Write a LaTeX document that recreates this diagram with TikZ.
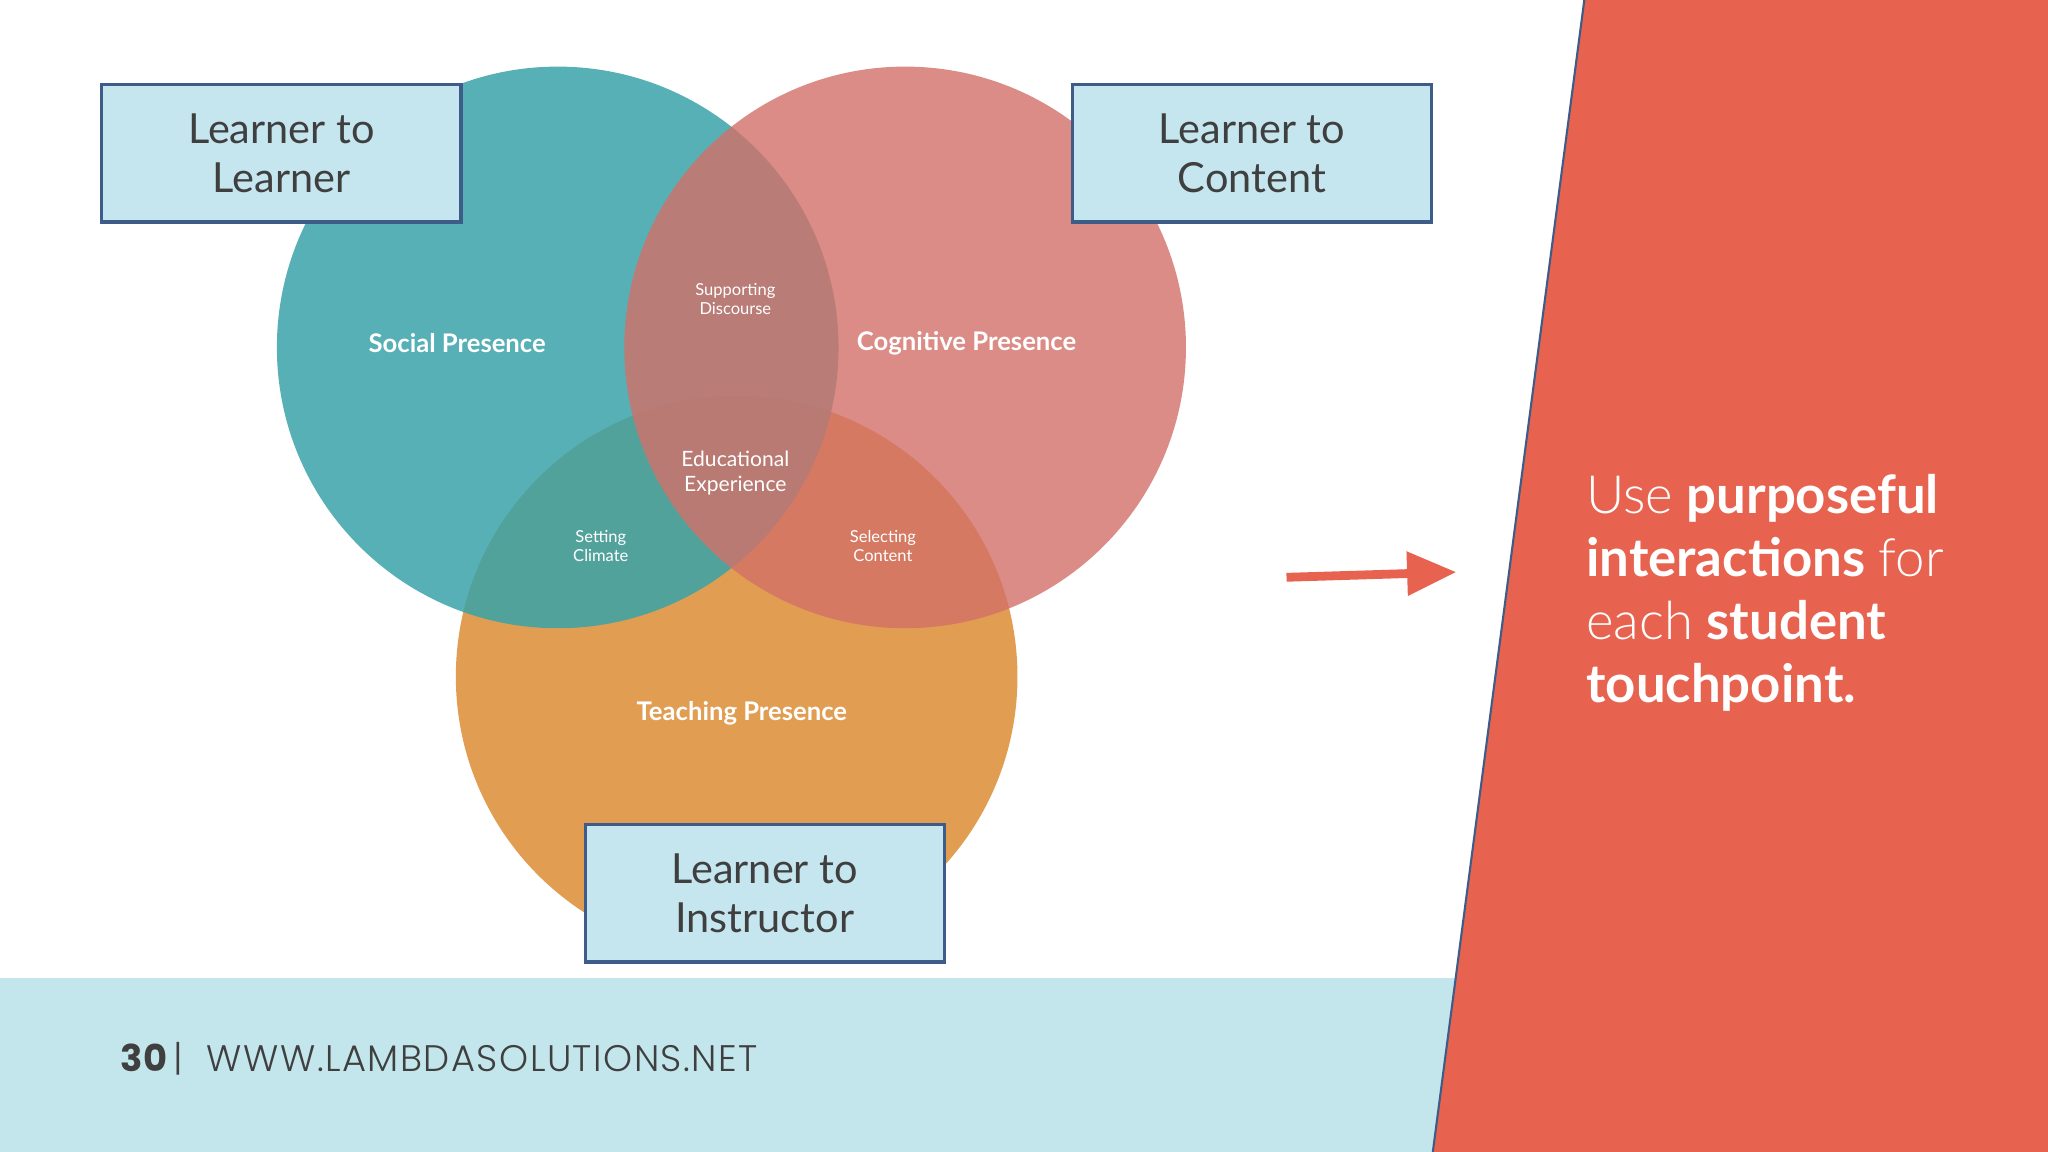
\documentclass[tikz,border=0pt]{standalone}
\usepackage{fontspec}
\setmainfont{Lato}
\newfontfamily\popfont{Poppins}
\newfontfamily\poplight[LetterSpace=4]{Poppins Light}
\newfontfamily\latolight{Lato Light}
\usetikzlibrary{arrows.meta}
\definecolor{bandblue}{HTML}{C3E5EC}
\definecolor{slred}{HTML}{E8634F}
\definecolor{cteal}{HTML}{3AA3A9}
\definecolor{cred}{HTML}{D27068}
\definecolor{corange}{HTML}{DC8E36}
\definecolor{boxfill}{HTML}{C5E6EF}
\definecolor{boxline}{HTML}{3E5C88}
\definecolor{txtgray}{HTML}{3F3F3F}
\tikzset{
  circ/.style={circle,minimum size=430*0.013061cm,inner sep=0pt,fill opacity=0.85,draw=none},
  lbox/.style={draw=boxline,line width=0.9pt,fill=boxfill,minimum width=275*0.013061cm,minimum height=105*0.013061cm,align=center,font=\fontsize{11.8}{13.8}\selectfont,text=txtgray},
  clab/.style={text=white,font=\bfseries\fontsize{7.3}{9}\selectfont,align=center},
  slab/.style={text=white,font=\fontsize{4.7}{5.6}\selectfont,align=center},
}
\begin{document}
\begin{tikzpicture}[x=0.013061cm,y=-0.013061cm]
\useasboundingbox (0,0) rectangle (1568,882);
\fill[white] (0,0) rectangle (1568,882);
\fill[bandblue] (0,749) rectangle (1115,882);
\node[circ,fill=corange] (tea) at (564,518) {};
\node[circ,fill=cteal] (soc) at (427,266) {};
\node[circ,fill=cred,fill opacity=0.8] (cog) at (693,266) {};
\node[clab] (sp) at (350,263) {Social Presence};
\node[clab] (cp) at (740,263) {Cognitive Presence};
\node[clab] (tp) at (568,546) {Teaching Presence};
\node[slab] (sd) at (563,229) {Supporting\\Discourse};
\node[clab,font=\fontsize{6}{7.2}\selectfont] (ee) at (563,362) {Educational\\Experience};
\node[slab] (sc) at (460,418) {Setting\\Climate};
\node[slab] (sel) at (676,418) {Selecting\\Content};
\node[lbox] (ll) at (215.5,117.5) {Learner to\\Learner};
\node[lbox] (lc) at (958.5,117.5) {Learner to\\Content};
\node[lbox] (li) at (585.5,684) {Learner to\\Instructor};
\fill[slred] (1213,0) -- (1568,0) -- (1568,882) -- (1097,882) -- cycle;
\draw[boxline,line width=0.6pt] (1213,0) -- (1097,882);
\coordinate (a1) at (985,442);
\coordinate (a2) at (1115,438);
\draw[slred,line width=2.5pt,-{Triangle[length=14pt,width=12pt]}] (a1) -- (a2);
\node[anchor=north west,text=white,align=left,font=\fontsize{15}{17.9}\selectfont,inner sep=0pt] (msg) at (1214,363)
{{\latolight Use} \textbf{purposeful}\\\textbf{interactions} {\latolight for}\\{\latolight each} \textbf{student}\\\textbf{touchpoint.}};
\node[anchor=west,text=txtgray,inner sep=0pt,font=\fontsize{10.5}{12}\selectfont] (ft) at (92,811) {{\popfont\bfseries 30}\,{\poplight |\,\, WWW.LAMBDASOLUTIONS.NET}};
\end{tikzpicture}
\end{document}
